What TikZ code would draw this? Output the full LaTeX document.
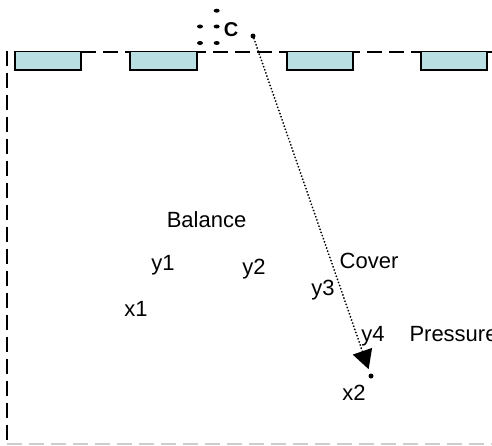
\documentclass[tikz,border=0pt]{standalone}
\usepackage{fontspec}
\setmainfont{Liberation Sans}
\usetikzlibrary{arrows.meta}
\definecolor{slotfill}{RGB}{185,223,227}
\definecolor{edgegray}{RGB}{205,205,205}

\begin{document}
\begin{tikzpicture}[x=1pt,y=-1pt,
  lbl/.style={font=\fontsize{22}{26}\selectfont, inner sep=0pt, anchor=base},
  slot/.style={draw=black, line width=1.3pt, fill=slotfill},
  wall/.style={line width=2pt, dash pattern=on 15pt off 7pt},
  pin/.style={circle, fill=black, inner sep=0pt, minimum size=5pt},
  link/.style={line width=2pt, line cap=round, dash pattern=on 0.01pt off 3.3pt,
    -{Triangle[length=19pt,width=20pt]}, shorten >=4.5pt}]
  \useasboundingbox (0,0) rectangle (492,445);

  % enclosure walls
  \draw[wall] (492,51.7) -- (7,51.7) -- (7,445);
  \draw[wall, draw=edgegray] (7,444) -- (492,444);

  % openings along the top wall
  \draw[slot] (15,51.7) rectangle (81,70);
  \draw[slot] (130,51.7) rectangle (197,70);
  \draw[slot] (287,51.7) rectangle (353,70);
  \draw[slot] (421,51.7) rectangle (487,70);

  % marker C with its tick marks
  \foreach \p in {(216.7,10.7),(200,26.5),(216.7,26.5),(200,43),(216.7,43)}
    \fill \p ellipse (3 and 2);
  \node[lbl, font=\fontsize{20}{24}\selectfont\bfseries] (c) at (231,36.5) {C};

  % arrow from the marker to x2
  \node[pin] (src) at (253,36) {};
  \node[pin] (dst) at (371,376) {};
  \draw[link] (src) -- (dst);

  % labels
  \node[lbl] (balance) at (206.5,227) {Balance};
  \node[lbl] (y1) at (163,270.5) {y1};
  \node[lbl] (y2) at (254,274) {y2};
  \node[lbl] (cover) at (369,268.3) {Cover};
  \node[lbl] (y3) at (323,295) {y3};
  \node[lbl] (x1) at (136,316.7) {x1};
  \node[lbl] (y4) at (373,341.7) {y4};
  \node[lbl, anchor=base west] (pressure) at (409.3,341.7) {Pressure};
  \node[lbl] (x2) at (354,400.7) {x2};
\end{tikzpicture}
\end{document}
